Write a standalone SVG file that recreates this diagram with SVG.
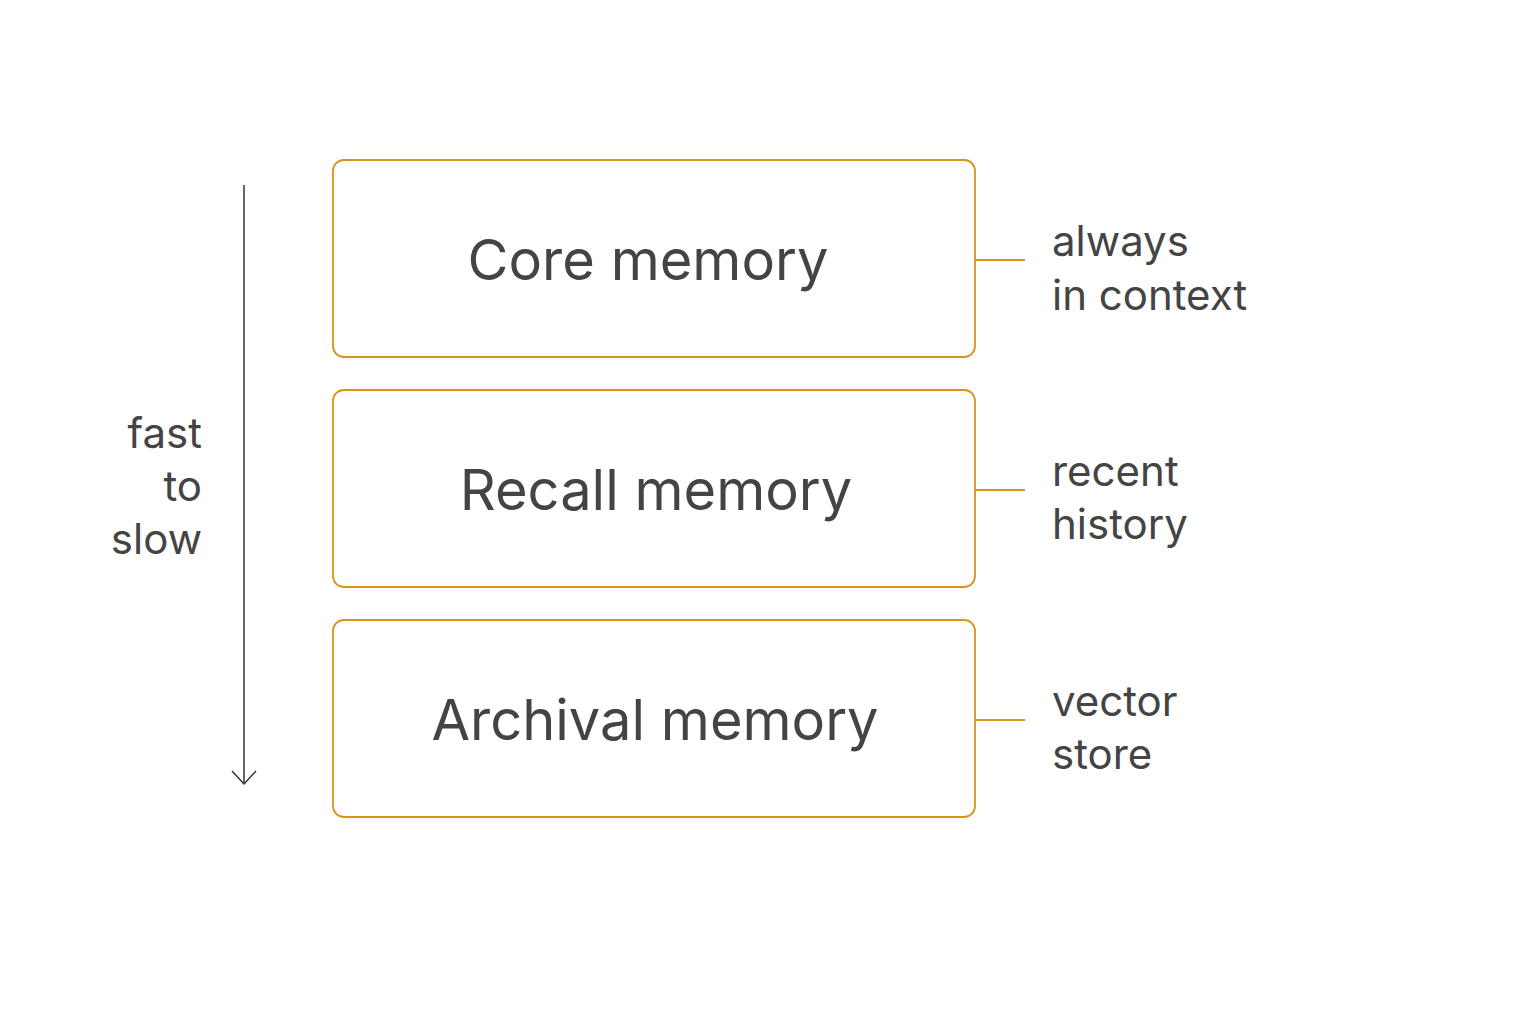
<svg xmlns="http://www.w3.org/2000/svg" width="1536" height="1024" viewBox="0 0 1536 1024">
<style>
.box{fill:#fff;stroke:#D9921A;stroke-width:1.8}
.t{font-family:Inter,"Liberation Sans",sans-serif;font-size:56px;fill:#444;text-anchor:middle}
.s{font-family:Inter,"Liberation Sans",sans-serif;font-size:42px;fill:#444}
.l{font-family:Inter,"Liberation Sans",sans-serif;font-size:42px;fill:#444;text-anchor:end}
.c{stroke:#D9921A;stroke-width:1.8;fill:none}
</style>
<rect width="1536" height="1024" fill="#fff"/>
<g id="axis">
<line x1="244" y1="185" x2="244" y2="784" stroke="#333" stroke-width="1.5"/>
<polyline points="232,771 244,784 256,771" fill="none" stroke="#333" stroke-width="1.5"/>
<text class="l" x="202" y="448">fast</text>
<text class="l" x="202" y="501">to</text>
<text class="l" x="202" y="554">slow</text>
</g>
<g id="core"><rect class="box" x="333" y="160" width="642" height="197" rx="11"/><text class="t" x="648" y="280">Core memory</text></g>
<g id="recall"><rect class="box" x="333" y="390" width="642" height="197" rx="11"/><text class="t" x="656" y="510">Recall memory</text></g>
<g id="archival"><rect class="box" x="333" y="620" width="642" height="197" rx="11"/><text class="t" x="655" y="740">Archival memory</text></g>
<g id="connectors">
<line class="c" x1="975" y1="260" x2="1025" y2="260"/>
<line class="c" x1="975" y1="490" x2="1025" y2="490"/>
<line class="c" x1="975" y1="720" x2="1025" y2="720"/>
</g>
<g id="labels">
<text class="s" x="1052" y="256">always</text><text class="s" x="1052" y="310">in context</text>
<text class="s" x="1052" y="486">recent</text><text class="s" x="1052" y="539">history</text>
<text class="s" x="1052" y="716">vector</text><text class="s" x="1052" y="769">store</text>
</g>
</svg>
